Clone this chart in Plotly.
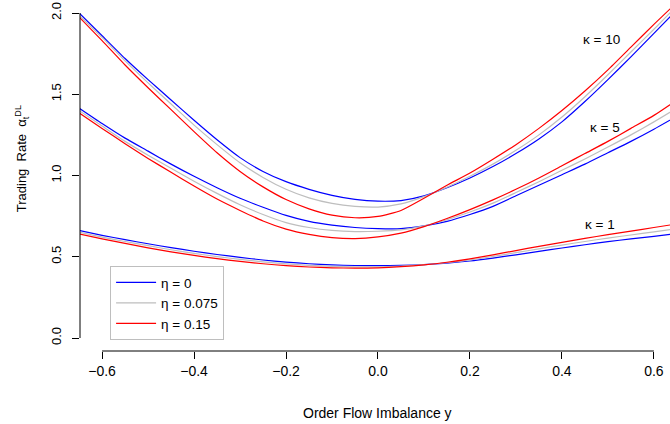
import plotly.graph_objects as go

# Order flow imbalance grid
y_grid = [-0.65, -0.6, -0.55, -0.5, -0.45, -0.4, -0.35, -0.3, -0.25, -0.2, -0.15, -0.1, -0.05,
          0.0, 0.05, 0.1, 0.15, 0.2, 0.25, 0.3, 0.35, 0.4, 0.45, 0.5, 0.55, 0.6, 0.65]

# kappa = 10
k10_eta0 = [2.00, 1.86, 1.72, 1.59, 1.465, 1.34, 1.22, 1.11, 1.025, 0.962, 0.915, 0.878, 0.853,
            0.842, 0.846, 0.875, 0.925, 0.985, 1.055, 1.135, 1.225, 1.33, 1.455, 1.59, 1.73, 1.875, 2.02]
k10_eta075 = [1.985, 1.85, 1.705, 1.57, 1.44, 1.31, 1.19, 1.078, 0.988, 0.915, 0.862, 0.828, 0.81,
              0.806, 0.825, 0.87, 0.928, 0.995, 1.07, 1.155, 1.25, 1.36, 1.485, 1.62, 1.76, 1.90, 2.045]
k10_eta15 = [1.975, 1.83, 1.68, 1.54, 1.405, 1.27, 1.14, 1.025, 0.93, 0.852, 0.795, 0.756, 0.74,
             0.748, 0.785, 0.86, 0.94, 1.015, 1.10, 1.19, 1.29, 1.40, 1.52, 1.65, 1.79, 1.93, 2.065]

# kappa = 5
k5_eta0 = [1.415, 1.32, 1.23, 1.15, 1.07, 0.995, 0.925, 0.86, 0.805, 0.755, 0.718, 0.695, 0.68,
           0.673, 0.673, 0.69, 0.718, 0.76, 0.81, 0.875, 0.94, 1.005, 1.07, 1.14, 1.21, 1.285, 1.365]
k5_eta075 = [1.40, 1.305, 1.21, 1.125, 1.045, 0.965, 0.89, 0.82, 0.76, 0.71, 0.68, 0.662, 0.655,
             0.657, 0.665, 0.69, 0.728, 0.775, 0.83, 0.895, 0.962, 1.032, 1.102, 1.175, 1.25, 1.33, 1.415]
k5_eta15 = [1.385, 1.29, 1.195, 1.105, 1.02, 0.935, 0.855, 0.785, 0.72, 0.67, 0.638, 0.618, 0.612,
            0.622, 0.645, 0.685, 0.735, 0.79, 0.85, 0.915, 0.985, 1.06, 1.135, 1.21, 1.29, 1.37, 1.465]

# kappa = 1
k1_eta0 = [0.662, 0.632, 0.605, 0.58, 0.556, 0.534, 0.514, 0.496, 0.48, 0.467, 0.457, 0.45, 0.446,
           0.445, 0.447, 0.452, 0.461, 0.474, 0.492, 0.512, 0.533, 0.554, 0.574, 0.593, 0.61, 0.626, 0.642]
k1_eta075 = [0.651, 0.621, 0.594, 0.568, 0.543, 0.521, 0.501, 0.484, 0.469, 0.456, 0.447, 0.441, 0.438,
             0.438, 0.443, 0.451, 0.463, 0.48, 0.502, 0.525, 0.549, 0.572, 0.594, 0.615, 0.634, 0.653, 0.672]
k1_eta15 = [0.64, 0.61, 0.582, 0.555, 0.53, 0.508, 0.488, 0.471, 0.457, 0.445, 0.437, 0.432, 0.43,
            0.432, 0.439, 0.45, 0.466, 0.487, 0.512, 0.538, 0.564, 0.589, 0.613, 0.636, 0.658, 0.68, 0.702]

eta_labels = ["η = 0", "η = 0.075", "η = 0.15"]
eta_colors = ["#0000FF", "#BEBEBE", "#FF0000"]
kappa_labels = ["κ = 10", "κ = 5", "κ = 1"]
kappa_label_pos = [(0.487, 1.84), (0.493, 1.295), (0.483, 0.70)]

families = [
    [k10_eta0, k10_eta075, k10_eta15],
    [k5_eta0, k5_eta075, k5_eta15],
    [k1_eta0, k1_eta075, k1_eta15],
]

x_ticks = [-0.6, -0.4, -0.2, 0.0, 0.2, 0.4, 0.6]
x_tick_text = ["\u22120.6", "\u22120.4", "\u22120.2", "0.0", "0.2", "0.4", "0.6"]
y_ticks = [0.0, 0.5, 1.0, 1.5, 2.0]
y_tick_text = ["0.0", "0.5", "1.0", "1.5", "2.0"]

FONT = "Liberation Sans, Arial, Helvetica, sans-serif"

fig = go.Figure()
for fi, fam in enumerate(families):
    for ei, vals in enumerate(fam):
        fig.add_trace(go.Scatter(
            x=y_grid, y=vals, mode="lines",
            line=dict(color=eta_colors[ei], width=1.2, shape="spline", smoothing=0.6),
            name=eta_labels[ei], legendgroup=eta_labels[ei],
            showlegend=(fi == 0),
        ))

annotations = []
for lab, (ax, ay) in zip(kappa_labels, kappa_label_pos):
    annotations.append(dict(x=ax, y=ay, xref="x", yref="y", text=lab, showarrow=False,
                            font=dict(size=13.5, color="black", family=FONT)))
annotations.append(dict(x=0.0, y=0, xref="x", yref="paper", yshift=-62, yanchor="middle",
                        text="Order Flow Imbalance y", showarrow=False,
                        font=dict(size=14, color="black", family=FONT)))
annotations.append(dict(x=0, y=1.1, xref="paper", yref="y", xshift=-58, xanchor="center",
                        text="Trading  Rate  α<sub>t</sub><sup>DL</sup>", textangle=-90,
                        showarrow=False, font=dict(size=13, color="black", family=FONT)))

shapes = [
    dict(type="line", xref="paper", yref="y", x0=0, x1=0, y0=0, y1=2.0,
         line=dict(color="black", width=1)),
    dict(type="line", xref="x", yref="paper", x0=-0.6, x1=0.6, y0=0, y1=0,
         line=dict(color="black", width=1)),
]

fig.update_layout(
    width=670, height=424,
    margin=dict(l=80, r=0, t=0, b=73),
    paper_bgcolor="white", plot_bgcolor="white",
    font=dict(family=FONT, size=12, color="black"),
    showlegend=True,
    legend=dict(x=0.051, y=0.242, xanchor="left", yanchor="top",
                bgcolor="white", bordercolor="#BEBEBE", borderwidth=1,
                font=dict(size=13.5, family=FONT), itemwidth=40,
                tracegroupgap=0),
    xaxis=dict(range=[-0.648, 0.635], showgrid=False, zeroline=False, showline=False,
               tickmode="array", tickvals=x_ticks, ticktext=x_tick_text,
               ticks="outside", ticklen=7, tickwidth=1, tickcolor="black",
               tickfont=dict(size=14, family=FONT)),
    yaxis=dict(range=[-0.08, 2.08], showgrid=False, zeroline=False, showline=False,
               tickmode="array", tickvals=y_ticks, ticktext=y_tick_text,
               ticks="outside", ticklen=7, tickwidth=1, tickcolor="black",
               tickangle=-90, ticklabelstandoff=6,
               tickfont=dict(size=13, family=FONT)),
    annotations=annotations,
    shapes=shapes,
)

fig.write_html("out.html")
